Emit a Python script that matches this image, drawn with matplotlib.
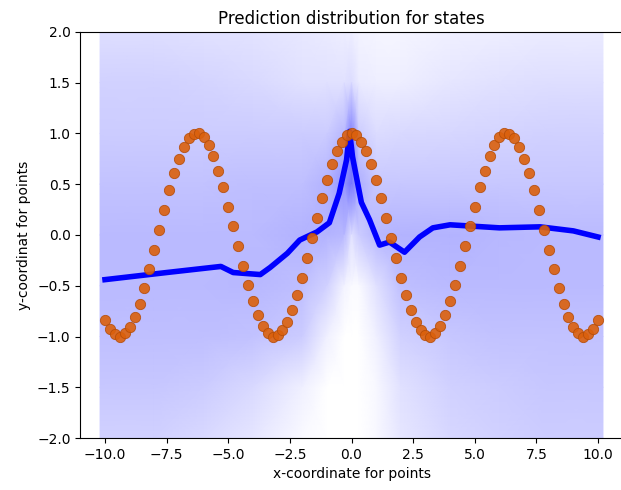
import matplotlib
matplotlib.use("Agg")
import matplotlib.pyplot as plt
import numpy as np
from matplotlib.colors import LinearSegmentedColormap

# target points (orange)
target_x = [-10.0, -9.8, -9.6, -9.4, -9.2, -9.0, -8.8, -8.6, -8.4, -8.2,
            -8.0, -7.8, -7.6, -7.4, -7.2, -7.0, -6.8, -6.6, -6.4, -6.2,
            -6.0, -5.8, -5.6, -5.4, -5.2, -5.0, -4.8, -4.6, -4.4, -4.2,
            -4.0, -3.8, -3.6, -3.4, -3.2, -3.0, -2.8, -2.6, -2.4, -2.2,
            -2.0, -1.8, -1.6, -1.4, -1.2, -1.0, -0.8, -0.6, -0.4, -0.2,
            0.0, 0.2, 0.4, 0.6, 0.8, 1.0, 1.2, 1.4, 1.6, 1.8,
            2.0, 2.2, 2.4, 2.6, 2.8, 3.0, 3.2, 3.4, 3.6, 3.8,
            4.0, 4.2, 4.4, 4.6, 4.8, 5.0, 5.2, 5.4, 5.6, 5.8,
            6.0, 6.2, 6.4, 6.6, 6.8, 7.0, 7.2, 7.4, 7.6, 7.8,
            8.0, 8.2, 8.4, 8.6, 8.8, 9.0, 9.2, 9.4, 9.6, 9.8, 10.0]
target_y = [-0.84, -0.93, -0.98, -1.00, -0.97, -0.91, -0.81, -0.68, -0.52, -0.34,
            -0.15, 0.05, 0.25, 0.44, 0.61, 0.75, 0.87, 0.95, 0.99, 1.00,
            0.96, 0.89, 0.78, 0.63, 0.47, 0.28, 0.09, -0.11, -0.31, -0.49,
            -0.65, -0.79, -0.90, -0.97, -1.00, -0.99, -0.94, -0.86, -0.74, -0.59,
            -0.42, -0.23, -0.03, 0.17, 0.36, 0.54, 0.70, 0.83, 0.92, 0.98,
            1.00, 0.98, 0.92, 0.83, 0.70, 0.54, 0.36, 0.17, -0.03, -0.23,
            -0.42, -0.59, -0.74, -0.86, -0.94, -0.99, -1.00, -0.97, -0.90, -0.79,
            -0.65, -0.49, -0.31, -0.11, 0.09, 0.28, 0.47, 0.63, 0.78, 0.89,
            0.96, 1.00, 0.99, 0.95, 0.87, 0.75, 0.61, 0.44, 0.25, 0.05,
            -0.15, -0.34, -0.52, -0.68, -0.81, -0.91, -0.97, -1.00, -0.98, -0.93, -0.84]

# mean prediction (dark blue line)
mean_x = [-10.0, -7.5, -5.3, -4.8, -3.7, -3.3, -2.6, -2.1, -1.4, -0.9, -0.5,
          -0.2, -0.08, 0.04, 0.4, 0.73, 1.14, 1.54, 2.15, 2.76, 3.3, 4.0,
          6.0, 7.65, 9.0, 10.0]
mean_y = [-0.44, -0.37, -0.31, -0.37, -0.39, -0.32, -0.18, -0.05, 0.03, 0.12, 0.41,
          0.74, 1.02, 0.77, 0.32, 0.15, -0.10, -0.07, -0.17, -0.02, 0.07, 0.10,
          0.07, 0.08, 0.04, -0.02]

# prediction cloud density (0 = white, 1 = pure blue)
cloud_x = [-10.2, -8, -6, -4, -2, -1, -0.3, 0, 0.3, 1, 2, 4, 6, 8, 10.2]
cloud_y = [2.0, 1.5, 1.0, 0.5, 0.0, -0.5, -1.0, -1.5, -2.0]
cloud_density = [
    [0.13, 0.13, 0.12, 0.11, 0.09, 0.08, 0.07, 0.07, 0.05, 0.04, 0.04, 0.06, 0.07, 0.08, 0.08],
    [0.18, 0.18, 0.17, 0.15, 0.12, 0.12, 0.12, 0.14, 0.08, 0.07, 0.07, 0.10, 0.12, 0.13, 0.13],
    [0.20, 0.20, 0.20, 0.20, 0.20, 0.20, 0.28, 0.50, 0.20, 0.14, 0.15, 0.16, 0.17, 0.18, 0.18],
    [0.24, 0.24, 0.24, 0.25, 0.25, 0.30, 0.42, 0.55, 0.32, 0.22, 0.22, 0.22, 0.22, 0.22, 0.22],
    [0.27, 0.27, 0.27, 0.27, 0.30, 0.30, 0.28, 0.12, 0.20, 0.28, 0.30, 0.30, 0.28, 0.27, 0.27],
    [0.27, 0.27, 0.27, 0.28, 0.25, 0.18, 0.05, 0.02, 0.02, 0.12, 0.25, 0.27, 0.27, 0.27, 0.27],
    [0.25, 0.25, 0.25, 0.24, 0.20, 0.06, 0.00, 0.00, 0.00, 0.06, 0.18, 0.22, 0.24, 0.24, 0.24],
    [0.22, 0.22, 0.20, 0.15, 0.06, 0.00, 0.00, 0.00, 0.00, 0.03, 0.12, 0.18, 0.20, 0.22, 0.22],
    [0.18, 0.18, 0.15, 0.10, 0.02, 0.00, 0.00, 0.00, 0.00, 0.03, 0.10, 0.16, 0.18, 0.20, 0.20],
]

fig = plt.figure(figsize=(6.21, 4.9), dpi=100)
ax = fig.add_axes([0.1294, 0.106, 0.8733, 0.829])

cmap = LinearSegmentedColormap.from_list("cloud", [(1, 1, 1), (0, 0, 1)])
X, Y = np.meshgrid(cloud_x, cloud_y)
ax.pcolormesh(X, Y, np.array(cloud_density), shading='gouraud',
              cmap=cmap, vmin=0, vmax=1, zorder=1)

ax.plot(mean_x, mean_y, color='blue', linewidth=4, zorder=2)
ax.scatter(target_x, target_y, s=55, color='#db600c', edgecolors='#b44c08',
           linewidths=0.6, alpha=0.9, zorder=3)

ax.set_xlim(-11, 11)
ax.set_ylim(-2, 2)
# the reference is cropped right at the axes edge, so no right spine shows
ax.spines['right'].set_visible(False)
ax.set_title("Prediction distribution for states")
ax.set_xlabel("x-coordinate for points")
ax.set_ylabel("y-coordinat for points")

fig.savefig("out.png", dpi=100)
